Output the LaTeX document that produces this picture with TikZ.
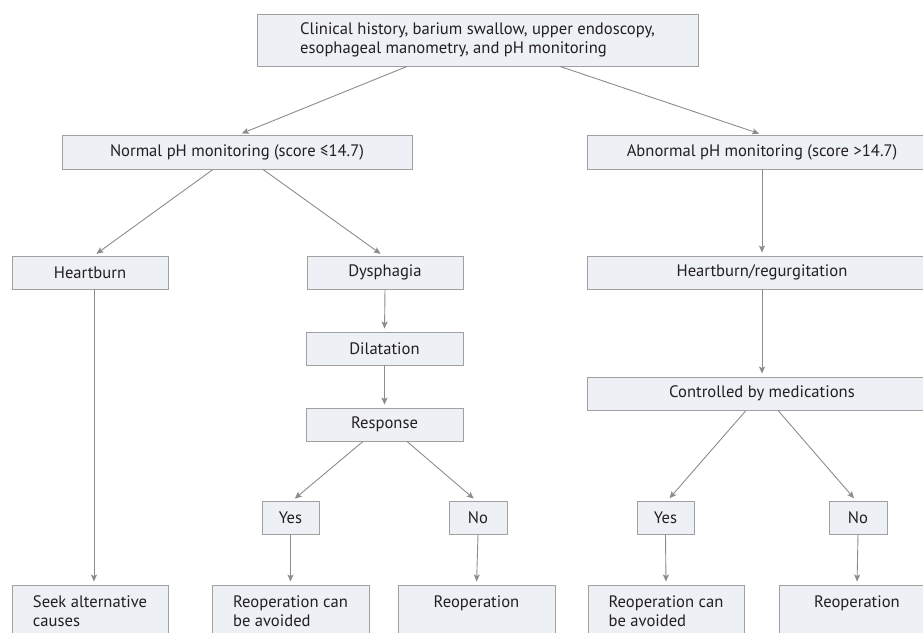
\documentclass[tikz,border=0pt]{standalone}
\usepackage{fontspec}
\setmainfont{PT Sans}
\usetikzlibrary{arrows.meta}
\definecolor{boxfill}{HTML}{EDF0F4}
\definecolor{boxline}{HTML}{A0A0A0}
\definecolor{lnk}{HTML}{8C8C8C}
\definecolor{txt}{HTML}{231F20}
\begin{document}
\begin{tikzpicture}[x=1pt,y=-1pt,
  box/.style={draw=boxline,fill=boxfill,line width=0.9pt,inner sep=0pt,text=txt,
    font=\fontsize{16.6}{18.5}\selectfont,minimum height=33pt},
  tallbox/.style={box,minimum height=52pt,align=left},
  arr/.style={draw=lnk,line width=0.9pt,-{Stealth[length=7pt,width=6pt,inset=1.5pt]},shorten >=3pt}]
\useasboundingbox (0,0) rectangle (923,632);
\clip (0,0) rectangle (923,632);
% nodes
\node[tallbox,minimum width=441pt] (top) at (477.5,40) {Clinical history, barium swallow, upper endoscopy,\\esophageal manometry, and pH monitoring};
\node[box,minimum width=350pt,minimum height=34pt] (normal) at (237,152) {Normal pH monitoring (score ≤14.7)};
\node[box,minimum width=350pt,minimum height=34pt] (abnormal) at (762,152) {Abnormal pH monitoring (score >14.7)};
\node[box,minimum width=156pt] (heart) at (90,272.5) {Heartburn};
\node[box,minimum width=156pt] (dys) at (385,272.5) {Dysphagia};
\node[box,minimum width=350pt] (hr) at (762,272.5) {Heartburn/regurgitation};
\node[box,minimum width=157pt] (dil) at (384.5,348.5) {Dilatation};
\node[box,minimum width=157pt] (resp) at (384.5,424.5) {Response};
\node[box,minimum width=350pt] (ctrl) at (762,393.5) {Controlled by medications};
\node[box,minimum width=57pt] (yesA) at (290.5,517.5) {Yes};
\node[box,minimum width=58pt] (noA) at (478,517.5) {No};
\node[box,minimum width=57pt] (yesB) at (665.5,517.5) {Yes};
\node[box,minimum width=58pt] (noB) at (858,517.5) {No};
\node[tallbox,minimum width=156pt] (seek) at (90,611) {Seek alternative\\causes};
\node[tallbox,minimum width=157pt] (rcA) at (290.5,611) {Reoperation can\\be avoided};
\node[tallbox,minimum width=157pt,align=center] (rA) at (476.5,611) {Reoperation\\\mbox{}};
\node[tallbox,minimum width=156pt] (rcB) at (666,611) {Reoperation can\\be avoided};
\node[tallbox,minimum width=156pt,align=center] (rB) at (857,611) {Reoperation\\\mbox{}};
% connectors
\draw[arr] ([xshift=-70.5pt]top.south) -- ([xshift=2pt]normal.north);
\draw[arr] ([xshift=82.5pt]top.south) -- (abnormal.north);
\draw[arr] ([xshift=-24pt]normal.south) -- ([xshift=4pt]heart.north);
\draw[arr] ([xshift=26pt]normal.south) -- ([xshift=-2pt]dys.north);
\draw[arr] ([xshift=4pt]heart.south) -- ([xshift=4pt]seek.north);
\draw[arr] (dys.south) -- (dil.north);
\draw[arr] (dil.south) -- (resp.north);
\draw[arr] ([xshift=-21.5pt]resp.south) -- ([xshift=2pt]yesA.north);
\draw[arr] ([xshift=22.5pt]resp.south) -- ([xshift=-2pt]noA.north);
\draw[arr] (yesA.south) -- (rcA.north);
\draw[arr] (noA.south) -- (rA.north);
\draw[arr] (abnormal.south) -- (hr.north);
\draw[arr] (hr.south) -- (ctrl.north);
\draw[arr] ([xshift=-16pt]ctrl.south) -- ([xshift=2pt]yesB.north);
\draw[arr] ([xshift=16pt]ctrl.south) -- ([xshift=-2pt]noB.north);
\draw[arr] (yesB.south) -- (rcB.north);
\draw[arr] (noB.south) -- (rB.north);
\end{tikzpicture}
\end{document}
